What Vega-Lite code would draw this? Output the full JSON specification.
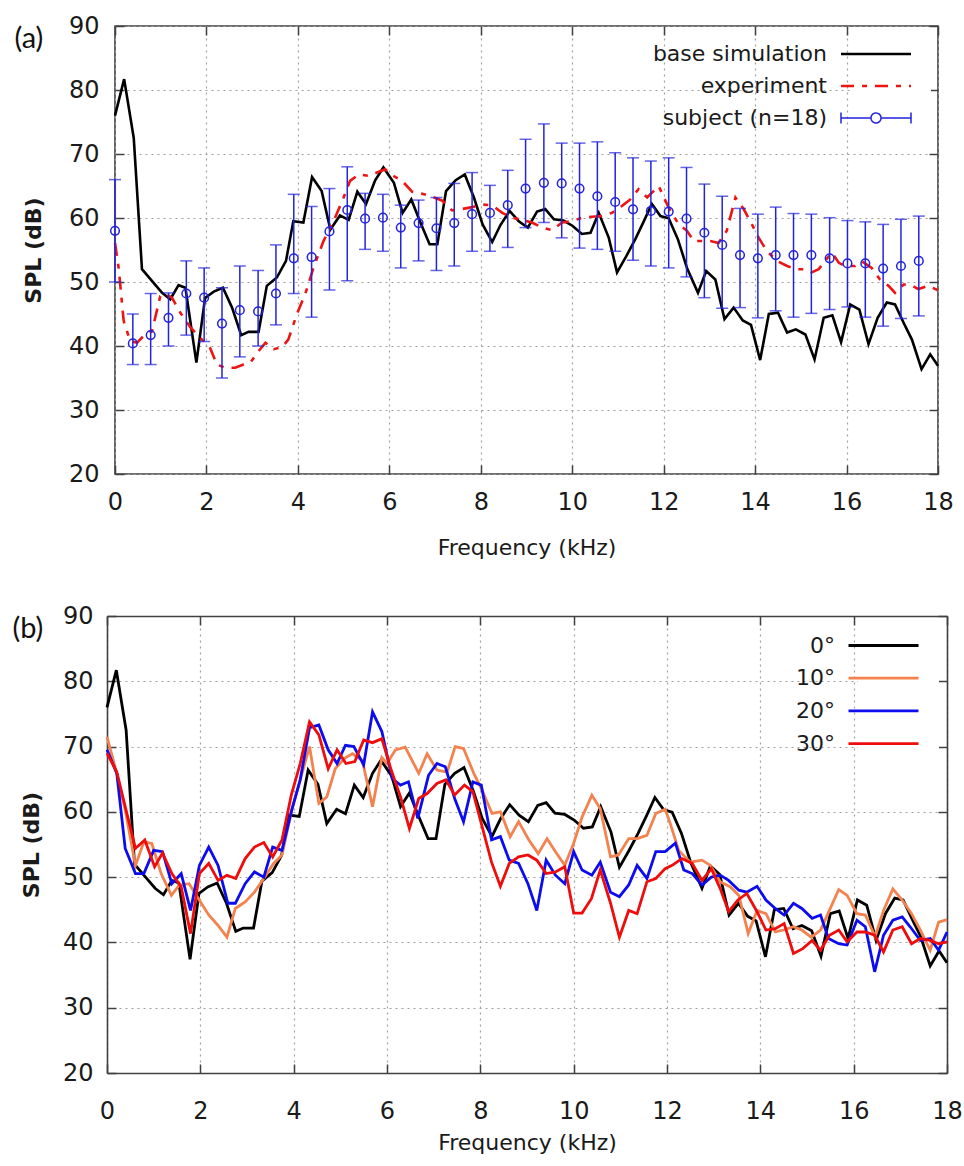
{
  "$schema": "https://vega.github.io/schema/vega-lite/v6.json",
  "background": "white",
  "padding": {"left": 12, "top": 13, "right": 4, "bottom": 4},
  "columns": 1,
  "align": "none",
  "bounds": "full",
  "spacing": 45,
  "resolve": {"scale": {"color": "independent"}, "legend": {"color": "independent"}},
  "datasets": {
    "sim": [
      {"f":0.0,"v":76.0},{"f":0.2,"v":81.7},{"f":0.41,"v":72.5},{"f":0.59,"v":52.0},{"f":0.84,"v":49.9},{"f":1.03,"v":48.3},{"f":1.21,"v":47.3},{"f":1.39,"v":49.5},{"f":1.54,"v":49.1},{"f":1.78,"v":37.4},{"f":1.97,"v":47.5},{"f":2.16,"v":48.5},{"f":2.36,"v":49.1},{"f":2.56,"v":46.0},{"f":2.76,"v":41.7},{"f":2.92,"v":42.2},{"f":3.14,"v":42.2},{"f":3.32,"v":49.4},{"f":3.54,"v":50.7},{"f":3.74,"v":53.3},{"f":3.9,"v":59.5},{"f":4.12,"v":59.3},{"f":4.31,"v":66.4},{"f":4.52,"v":64.2},{"f":4.71,"v":58.2},{"f":4.92,"v":60.4},{"f":5.11,"v":59.7},{"f":5.3,"v":64.1},{"f":5.49,"v":62.2},{"f":5.69,"v":65.9},{"f":5.87,"v":67.9},{"f":6.1,"v":65.5},{"f":6.29,"v":60.8},{"f":6.48,"v":62.9},{"f":6.68,"v":59.3},{"f":6.88,"v":55.9},{"f":7.05,"v":55.9},{"f":7.24,"v":64.2},{"f":7.45,"v":65.9},{"f":7.65,"v":66.8},{"f":7.85,"v":63.2},{"f":8.04,"v":59.0},{"f":8.25,"v":56.25},{"f":8.43,"v":58.9},{"f":8.63,"v":61.1},{"f":8.83,"v":59.5},{"f":9.03,"v":58.5},{"f":9.23,"v":61.0},{"f":9.41,"v":61.4},{"f":9.6,"v":59.8},{"f":9.81,"v":59.6},{"f":10.01,"v":58.75},{"f":10.21,"v":57.5},{"f":10.4,"v":57.7},{"f":10.58,"v":60.8},{"f":10.8,"v":56.9},{"f":10.98,"v":51.5},{"f":11.18,"v":54.0},{"f":11.38,"v":56.7},{"f":11.56,"v":59.4},{"f":11.74,"v":62.2},{"f":11.93,"v":60.3},{"f":12.11,"v":59.95},{"f":12.31,"v":56.7},{"f":12.51,"v":52.2},{"f":12.75,"v":48.3},{"f":12.93,"v":51.7},{"f":13.13,"v":50.4},{"f":13.33,"v":44.2},{"f":13.53,"v":46.0},{"f":13.73,"v":44.0},{"f":13.91,"v":43.3},{"f":14.11,"v":37.8},{"f":14.3,"v":45.0},{"f":14.5,"v":45.2},{"f":14.7,"v":42.1},{"f":14.89,"v":42.6},{"f":15.1,"v":41.8},{"f":15.3,"v":37.9},{"f":15.5,"v":44.4},{"f":15.69,"v":44.8},{"f":15.88,"v":40.6},{"f":16.08,"v":46.5},{"f":16.28,"v":45.7},{"f":16.48,"v":40.3},{"f":16.68,"v":44.4},{"f":16.88,"v":46.8},{"f":17.06,"v":46.5},{"f":17.25,"v":43.6},{"f":17.43,"v":41.0},{"f":17.64,"v":36.4},{"f":17.83,"v":38.7},{"f":18.0,"v":36.9}
    ],
    "exp": [
      {"f":0.0,"v":56.1},{"f":0.08,"v":52.2},{"f":0.19,"v":43.9},{"f":0.33,"v":40.8},{"f":0.48,"v":40.5},{"f":0.63,"v":41.6},{"f":0.81,"v":42.3},{"f":0.99,"v":47.8},{"f":1.1,"v":48.2},{"f":1.25,"v":47.5},{"f":1.43,"v":45.2},{"f":1.65,"v":42.9},{"f":1.86,"v":41.3},{"f":2.08,"v":39.7},{"f":2.23,"v":37.1},{"f":2.41,"v":36.6},{"f":2.63,"v":36.6},{"f":2.81,"v":37.1},{"f":2.96,"v":37.4},{"f":3.14,"v":39.2},{"f":3.29,"v":40.5},{"f":3.47,"v":39.5},{"f":3.65,"v":39.8},{"f":3.79,"v":41.0},{"f":3.98,"v":45.0},{"f":4.16,"v":48.1},{"f":4.34,"v":52.2},{"f":4.56,"v":56.4},{"f":4.78,"v":59.5},{"f":5.0,"v":63.2},{"f":5.14,"v":65.8},{"f":5.33,"v":66.8},{"f":5.54,"v":66.6},{"f":5.73,"v":67.1},{"f":5.91,"v":67.6},{"f":6.06,"v":66.7},{"f":6.28,"v":65.8},{"f":6.5,"v":64.1},{"f":6.72,"v":63.8},{"f":6.94,"v":63.3},{"f":7.16,"v":62.7},{"f":7.37,"v":61.2},{"f":7.59,"v":61.4},{"f":7.81,"v":61.7},{"f":8.03,"v":62.1},{"f":8.25,"v":62.0},{"f":8.47,"v":60.8},{"f":8.68,"v":60.05},{"f":8.9,"v":59.7},{"f":9.12,"v":59.3},{"f":9.34,"v":58.5},{"f":9.56,"v":58.1},{"f":9.78,"v":59.3},{"f":10.0,"v":59.5},{"f":10.21,"v":60.05},{"f":10.43,"v":60.2},{"f":10.65,"v":60.3},{"f":10.87,"v":60.8},{"f":11.09,"v":61.9},{"f":11.27,"v":62.9},{"f":11.45,"v":64.5},{"f":11.64,"v":63.2},{"f":11.89,"v":65.0},{"f":12.11,"v":61.6},{"f":12.33,"v":59.0},{"f":12.51,"v":58.0},{"f":12.66,"v":56.4},{"f":12.84,"v":56.4},{"f":13.02,"v":56.4},{"f":13.2,"v":56.1},{"f":13.38,"v":58.0},{"f":13.57,"v":63.2},{"f":13.75,"v":61.4},{"f":13.93,"v":59.0},{"f":14.08,"v":56.9},{"f":14.26,"v":54.8},{"f":14.48,"v":53.3},{"f":14.7,"v":52.5},{"f":14.91,"v":52.0},{"f":15.1,"v":52.0},{"f":15.24,"v":51.5},{"f":15.39,"v":52.0},{"f":15.53,"v":53.3},{"f":15.68,"v":54.6},{"f":15.83,"v":53.0},{"f":15.97,"v":52.5},{"f":16.19,"v":52.5},{"f":16.34,"v":53.2},{"f":16.55,"v":52.2},{"f":16.73,"v":50.4},{"f":16.92,"v":49.4},{"f":17.06,"v":48.3},{"f":17.25,"v":49.6},{"f":17.39,"v":49.6},{"f":17.57,"v":48.9},{"f":17.79,"v":49.4},{"f":18.0,"v":48.7}
    ],
    "subj": [
      {"f":0.0,"m":58.0,"lo":50.0,"hi":66.0},{"f":0.39,"m":40.4,"lo":37.1,"hi":45.0},{"f":0.78,"m":41.7,"lo":37.1,"hi":48.2},{"f":1.17,"m":44.4,"lo":40.0,"hi":48.3},{"f":1.56,"m":48.2,"lo":41.7,"hi":53.3},{"f":1.95,"m":47.55,"lo":40.7,"hi":52.2},{"f":2.34,"m":43.5,"lo":35.0,"hi":49.1},{"f":2.73,"m":45.6,"lo":38.3,"hi":52.5},{"f":3.13,"m":45.4,"lo":40.0,"hi":51.8},{"f":3.52,"m":48.2,"lo":43.3,"hi":55.8},{"f":3.91,"m":53.7,"lo":48.2,"hi":63.7},{"f":4.3,"m":53.9,"lo":44.5,"hi":61.8},{"f":4.69,"m":57.9,"lo":48.75,"hi":64.6},{"f":5.08,"m":61.25,"lo":50.2,"hi":68.0},{"f":5.47,"m":59.9,"lo":55.1,"hi":63.85},{"f":5.86,"m":60.05,"lo":54.8,"hi":63.7},{"f":6.25,"m":58.5,"lo":52.2,"hi":62.0},{"f":6.64,"m":59.2,"lo":53.3,"hi":62.8},{"f":7.03,"m":58.4,"lo":51.8,"hi":63.2},{"f":7.42,"m":59.2,"lo":52.5,"hi":65.4},{"f":7.81,"m":60.6,"lo":54.8,"hi":67.1},{"f":8.2,"m":60.8,"lo":54.8,"hi":65.1},{"f":8.59,"m":62.0,"lo":55.4,"hi":67.45},{"f":8.98,"m":64.6,"lo":58.5,"hi":72.3},{"f":9.38,"m":65.5,"lo":59.3,"hi":74.7},{"f":9.77,"m":65.4,"lo":56.9,"hi":71.7},{"f":10.16,"m":64.6,"lo":55.3,"hi":71.7},{"f":10.55,"m":63.4,"lo":55.1,"hi":71.9},{"f":10.94,"m":62.5,"lo":54.8,"hi":70.2},{"f":11.33,"m":61.35,"lo":53.4,"hi":69.4},{"f":11.72,"m":61.1,"lo":52.5,"hi":68.9},{"f":12.11,"m":61.0,"lo":52.2,"hi":69.4},{"f":12.5,"m":59.9,"lo":50.8,"hi":67.9},{"f":12.89,"m":57.7,"lo":47.55,"hi":65.3},{"f":13.28,"m":55.8,"lo":45.9,"hi":63.4},{"f":13.67,"m":54.2,"lo":46.0,"hi":61.5},{"f":14.06,"m":53.7,"lo":44.4,"hi":60.6},{"f":14.45,"m":54.2,"lo":45.5,"hi":61.7},{"f":14.84,"m":54.2,"lo":44.5,"hi":60.7},{"f":15.23,"m":54.2,"lo":45.1,"hi":60.6},{"f":15.63,"m":53.7,"lo":45.7,"hi":60.05},{"f":16.02,"m":52.9,"lo":46.1,"hi":59.6},{"f":16.41,"m":52.9,"lo":44.5,"hi":59.4},{"f":16.8,"m":52.1,"lo":43.1,"hi":59.0},{"f":17.19,"m":52.5,"lo":44.3,"hi":59.8},{"f":17.58,"m":53.3,"lo":44.7,"hi":60.3}
    ],
    "b10": [
      {"f":0.0,"v":71.5},{"f":0.21,"v":65.9},{"f":0.39,"v":60.3},{"f":0.61,"v":51.8},{"f":0.79,"v":55.4},{"f":0.96,"v":55.15},{"f":1.16,"v":50.55},{"f":1.38,"v":47.2},{"f":1.55,"v":48.8},{"f":1.76,"v":49.0},{"f":1.96,"v":46.7},{"f":2.18,"v":44.2},{"f":2.38,"v":42.6},{"f":2.57,"v":40.8},{"f":2.75,"v":45.2},{"f":2.96,"v":46.2},{"f":3.16,"v":47.7},{"f":3.36,"v":49.8},{"f":3.57,"v":52.1},{"f":3.75,"v":53.4},{"f":3.96,"v":60.3},{"f":4.14,"v":64.9},{"f":4.34,"v":70.0},{"f":4.54,"v":61.3},{"f":4.71,"v":62.3},{"f":4.89,"v":66.6},{"f":5.09,"v":68.2},{"f":5.26,"v":68.9},{"f":5.47,"v":67.9},{"f":5.69,"v":60.8},{"f":5.89,"v":68.3},{"f":6.0,"v":67.4},{"f":6.18,"v":69.5},{"f":6.39,"v":69.9},{"f":6.68,"v":65.9},{"f":6.86,"v":68.9},{"f":7.07,"v":66.4},{"f":7.29,"v":66.1},{"f":7.46,"v":70.0},{"f":7.64,"v":69.7},{"f":7.86,"v":65.9},{"f":8.04,"v":63.3},{"f":8.25,"v":59.75},{"f":8.43,"v":60.0},{"f":8.64,"v":56.2},{"f":8.82,"v":58.5},{"f":9.04,"v":55.7},{"f":9.24,"v":53.6},{"f":9.43,"v":55.9},{"f":9.61,"v":53.9},{"f":9.81,"v":51.8},{"f":10.0,"v":55.2},{"f":10.18,"v":59.2},{"f":10.39,"v":62.55},{"f":10.57,"v":60.5},{"f":10.79,"v":53.1},{"f":10.96,"v":53.4},{"f":11.18,"v":55.9},{"f":11.36,"v":55.9},{"f":11.57,"v":56.4},{"f":11.76,"v":59.75},{"f":11.96,"v":60.4},{"f":12.07,"v":58.2},{"f":12.25,"v":54.1},{"f":12.5,"v":52.3},{"f":12.75,"v":52.6},{"f":12.93,"v":51.8},{"f":13.14,"v":49.3},{"f":13.36,"v":48.5},{"f":13.54,"v":47.2},{"f":13.74,"v":41.35},{"f":13.93,"v":44.9},{"f":14.12,"v":44.4},{"f":14.32,"v":41.6},{"f":14.5,"v":41.9},{"f":14.71,"v":42.4},{"f":14.89,"v":41.9},{"f":15.09,"v":40.8},{"f":15.29,"v":41.9},{"f":15.48,"v":44.9},{"f":15.68,"v":48.1},{"f":15.86,"v":47.2},{"f":16.07,"v":44.4},{"f":16.25,"v":44.2},{"f":16.46,"v":40.9},{"f":16.64,"v":44.9},{"f":16.84,"v":48.2},{"f":17.04,"v":46.5},{"f":17.24,"v":44.4},{"f":17.43,"v":41.9},{"f":17.64,"v":38.8},{"f":17.82,"v":43.1},{"f":18.0,"v":43.5}
    ],
    "b20": [
      {"f":0.0,"v":69.5},{"f":0.21,"v":65.9},{"f":0.39,"v":54.4},{"f":0.61,"v":50.55},{"f":0.79,"v":50.55},{"f":1.0,"v":54.1},{"f":1.19,"v":53.9},{"f":1.39,"v":49.0},{"f":1.59,"v":50.55},{"f":1.79,"v":44.9},{"f":1.98,"v":51.8},{"f":2.18,"v":54.6},{"f":2.38,"v":51.8},{"f":2.59,"v":46.0},{"f":2.75,"v":46.0},{"f":2.96,"v":49.0},{"f":3.16,"v":50.8},{"f":3.36,"v":50.0},{"f":3.55,"v":54.6},{"f":3.75,"v":54.1},{"f":3.96,"v":60.3},{"f":4.14,"v":64.9},{"f":4.34,"v":72.9},{"f":4.54,"v":73.3},{"f":4.74,"v":69.5},{"f":4.93,"v":67.4},{"f":5.11,"v":70.2},{"f":5.29,"v":70.0},{"f":5.5,"v":67.2},{"f":5.69,"v":75.3},{"f":5.89,"v":72.3},{"f":6.11,"v":65.1},{"f":6.29,"v":64.1},{"f":6.46,"v":64.6},{"f":6.66,"v":59.0},{"f":6.89,"v":65.6},{"f":7.07,"v":67.4},{"f":7.25,"v":66.9},{"f":7.45,"v":62.05},{"f":7.64,"v":58.5},{"f":7.84,"v":64.6},{"f":8.02,"v":64.1},{"f":8.24,"v":55.7},{"f":8.43,"v":56.2},{"f":8.62,"v":52.6},{"f":8.82,"v":52.1},{"f":9.02,"v":49.0},{"f":9.21,"v":44.9},{"f":9.41,"v":52.6},{"f":9.61,"v":50.3},{"f":9.81,"v":49.0},{"f":10.0,"v":53.9},{"f":10.18,"v":51.1},{"f":10.39,"v":50.3},{"f":10.57,"v":52.3},{"f":10.79,"v":47.7},{"f":10.98,"v":47.0},{"f":11.18,"v":48.8},{"f":11.36,"v":51.8},{"f":11.57,"v":49.8},{"f":11.76,"v":53.9},{"f":11.96,"v":53.9},{"f":12.18,"v":55.2},{"f":12.36,"v":51.1},{"f":12.54,"v":50.55},{"f":12.75,"v":48.8},{"f":12.95,"v":50.0},{"f":13.14,"v":50.3},{"f":13.32,"v":49.5},{"f":13.54,"v":48.0},{"f":13.71,"v":47.7},{"f":13.93,"v":48.6},{"f":14.12,"v":46.5},{"f":14.32,"v":45.2},{"f":14.51,"v":44.2},{"f":14.71,"v":46.0},{"f":14.89,"v":45.2},{"f":15.11,"v":43.7},{"f":15.29,"v":44.2},{"f":15.46,"v":40.6},{"f":15.68,"v":39.8},{"f":15.86,"v":39.6},{"f":16.07,"v":43.4},{"f":16.25,"v":42.4},{"f":16.45,"v":35.5},{"f":16.64,"v":41.1},{"f":16.84,"v":43.4},{"f":17.04,"v":43.9},{"f":17.21,"v":42.4},{"f":17.43,"v":40.3},{"f":17.64,"v":40.6},{"f":17.82,"v":38.8},{"f":18.0,"v":41.6}
    ],
    "b30": [
      {"f":0.0,"v":69.0},{"f":0.21,"v":66.1},{"f":0.39,"v":60.8},{"f":0.61,"v":54.4},{"f":0.81,"v":55.7},{"f":1.02,"v":51.6},{"f":1.19,"v":53.7},{"f":1.39,"v":50.55},{"f":1.59,"v":48.5},{"f":1.79,"v":41.35},{"f":1.98,"v":50.55},{"f":2.18,"v":52.1},{"f":2.38,"v":49.5},{"f":2.57,"v":50.3},{"f":2.76,"v":49.8},{"f":2.96,"v":52.85},{"f":3.16,"v":54.6},{"f":3.36,"v":55.3},{"f":3.55,"v":53.1},{"f":3.75,"v":55.7},{"f":3.95,"v":62.6},{"f":4.14,"v":67.4},{"f":4.34,"v":73.8},{"f":4.54,"v":71.8},{"f":4.74,"v":66.6},{"f":4.93,"v":69.5},{"f":5.12,"v":67.4},{"f":5.31,"v":67.7},{"f":5.5,"v":71.0},{"f":5.69,"v":70.6},{"f":5.89,"v":71.2},{"f":6.09,"v":66.4},{"f":6.29,"v":62.3},{"f":6.48,"v":57.45},{"f":6.68,"v":62.05},{"f":6.86,"v":62.8},{"f":7.07,"v":64.35},{"f":7.26,"v":64.9},{"f":7.45,"v":62.6},{"f":7.66,"v":64.1},{"f":7.84,"v":63.1},{"f":8.04,"v":57.7},{"f":8.24,"v":52.3},{"f":8.43,"v":48.6},{"f":8.62,"v":52.1},{"f":8.82,"v":53.1},{"f":9.02,"v":53.4},{"f":9.21,"v":52.6},{"f":9.41,"v":50.55},{"f":9.61,"v":50.8},{"f":9.81,"v":51.6},{"f":10.0,"v":44.5},{"f":10.18,"v":44.5},{"f":10.38,"v":46.7},{"f":10.57,"v":51.1},{"f":10.79,"v":46.0},{"f":10.98,"v":40.8},{"f":11.18,"v":44.9},{"f":11.36,"v":44.4},{"f":11.57,"v":49.3},{"f":11.76,"v":49.8},{"f":11.96,"v":51.3},{"f":12.11,"v":51.8},{"f":12.32,"v":52.85},{"f":12.54,"v":52.1},{"f":12.75,"v":49.5},{"f":12.95,"v":51.3},{"f":13.14,"v":48.25},{"f":13.32,"v":44.7},{"f":13.52,"v":46.5},{"f":13.71,"v":47.5},{"f":13.93,"v":44.7},{"f":14.12,"v":41.9},{"f":14.32,"v":42.1},{"f":14.51,"v":42.9},{"f":14.71,"v":38.3},{"f":14.91,"v":39.05},{"f":15.11,"v":40.3},{"f":15.29,"v":38.8},{"f":15.48,"v":41.1},{"f":15.68,"v":41.9},{"f":15.86,"v":40.1},{"f":16.07,"v":41.6},{"f":16.25,"v":41.6},{"f":16.45,"v":41.1},{"f":16.64,"v":38.55},{"f":16.84,"v":41.9},{"f":17.04,"v":42.4},{"f":17.24,"v":39.8},{"f":17.43,"v":40.6},{"f":17.64,"v":40.3},{"f":17.82,"v":39.8},{"f":18.0,"v":40.1}
    ]
  },
  "concat": [
    {
      "width": 823,
      "height": 448,
      "title": {"text": "(a)", "anchor": "start", "frame": "bounds", "font": "Lato", "fontSize": 29, "fontWeight": "normal", "color": "#111111", "dx": -8, "dy": 40, "offset": 0},
      "layer": [
        {
          "data": {"name": "sim"},
          "mark": {"type": "line", "strokeWidth": 2.6},
          "encoding": {
            "x": {"field": "f", "type": "quantitative", "scale": {"domain": [0, 18], "nice": false, "zero": false},
                  "axis": {"orient": "bottom", "values": [0,2,4,6,8,10,12,14,16,18], "title": "Frequency (kHz)", "grid": true, "labelPadding": 25, "titlePadding": 23}},
            "y": {"field": "v", "type": "quantitative", "scale": {"domain": [20, 90], "nice": false, "zero": false},
                  "axis": {"orient": "left", "values": [20,30,40,50,60,70,80,90], "title": "SPL (dB)", "titleFontWeight": "bold", "grid": true, "labelPadding": 25, "titlePadding": 23}},
            "color": {"datum": "base simulation", "type": "nominal",
                      "scale": {"domain": ["base simulation", "experiment", "subject (n=18)"], "range": ["#000000", "#ee1414", "#2323dd"]},
                      "legend": {
                        "title": null, "orient": "none", "legendX": 736, "legendY": 3, "fillColor": "#ffffff", "padding": 14, "rowPadding": 10,
                        "labelFont": "DejaVu Sans", "labelFontSize": 22, "labelColor": "#1a1a1a", "labelAlign": "right", "labelOffset": -60, "labelLimit": 400,
                        "symbolSize": 400, "symbolStrokeWidth": 2.6, "symbolType": "M-3.5,0L3.5,0", "symbolFillColor": "transparent",
                        "encode": {"symbols": {"update": {
                          "shape": {"signal": "datum.value === 'subject (n=18)' ? 'M-3.5,-0.55L-3.5,0.55M-3.5,0L-0.5,0M0.5,0L3.5,0M3.5,-0.55L3.5,0.55M0.5,0A0.5,0.5 0 1 1 -0.5,0A0.5,0.5 0 1 1 0.5,0' : 'M-3.5,0L3.5,0'"},
                          "strokeDash": {"signal": "datum.value === 'experiment' ? [13,8,5,8] : [1,0]"},
                          "strokeWidth": {"signal": "datum.value === 'subject (n=18)' ? 1.5 : 2.6"},
                          "fill": {"value": "transparent"},
                          "fillOpacity": {"value": 0},
                          "opacity": {"value": 1}
                        }}}
                      }}
          }
        },
        {
          "data": {"name": "exp"},
          "mark": {"type": "line", "strokeWidth": 2.6, "strokeDash": [13, 8, 5, 8]},
          "encoding": {
            "x": {"field": "f", "type": "quantitative", "axis": null},
            "y": {"field": "v", "type": "quantitative", "axis": null},
            "color": {"datum": "experiment", "type": "nominal"}
          }
        },
        {
          "data": {"name": "subj"},
          "mark": {"type": "rule", "strokeWidth": 1.5},
          "encoding": {
            "x": {"field": "f", "type": "quantitative", "axis": null},
            "y": {"field": "lo", "type": "quantitative", "axis": null},
            "y2": {"field": "hi"},
            "color": {"datum": "subject (n=18)", "type": "nominal"}
          }
        },
        {
          "data": {"name": "subj"},
          "mark": {"type": "tick", "orient": "horizontal", "size": 12, "thickness": 1.5},
          "encoding": {
            "x": {"field": "f", "type": "quantitative", "axis": null},
            "y": {"field": "lo", "type": "quantitative", "axis": null},
            "color": {"datum": "subject (n=18)", "type": "nominal"}
          }
        },
        {
          "data": {"name": "subj"},
          "mark": {"type": "tick", "orient": "horizontal", "size": 12, "thickness": 1.5},
          "encoding": {
            "x": {"field": "f", "type": "quantitative", "axis": null},
            "y": {"field": "hi", "type": "quantitative", "axis": null},
            "color": {"datum": "subject (n=18)", "type": "nominal"}
          }
        },
        {
          "data": {"name": "subj"},
          "mark": {"type": "point", "filled": false, "size": 75, "strokeWidth": 1.5, "opacity": 1},
          "encoding": {
            "x": {"field": "f", "type": "quantitative", "axis": null},
            "y": {"field": "m", "type": "quantitative", "axis": null},
            "color": {"datum": "subject (n=18)", "type": "nominal"}
          }
        },
        {
          "data": {"name": "sim"},
          "mark": {"type": "line", "opacity": 0},
          "encoding": {
            "x": {"field": "f", "type": "quantitative", "axis": {"orient": "top", "values": [0,2,4,6,8,10,12,14,16,18], "labels": false, "grid": false, "title": null}},
            "y": {"field": "v", "type": "quantitative", "axis": {"orient": "right", "values": [20,30,40,50,60,70,80,90], "labels": false, "grid": false, "title": null}}
          }
        }
      ],
      "resolve": {"axis": {"x": "independent", "y": "independent"}}
    },
    {
      "width": 840,
      "height": 457,
      "view": {"stroke": null},
      "title": {"text": "(b)", "anchor": "start", "frame": "bounds", "font": "Lato", "fontSize": 29, "fontWeight": "normal", "color": "#111111", "dx": -8, "dy": 40, "offset": 0},
      "layer": [
        {
          "data": {"name": "sim"},
          "mark": {"type": "line", "strokeWidth": 2.8},
          "encoding": {
            "x": {"field": "f", "type": "quantitative", "scale": {"domain": [0, 18], "nice": false, "zero": false, "range": [-8, 832]},
                  "axis": {"orient": "bottom", "values": [0,2,4,6,8,10,12,14,16,18], "title": "Frequency (kHz)", "grid": true, "labelPadding": 35, "titlePadding": 9, "domain": true, "domainColor": "#404040", "domainWidth": 1.6}},
            "y": {"field": "v", "type": "quantitative", "scale": {"domain": [20, 90], "nice": false, "zero": false},
                  "axis": {"orient": "left", "offset": 8, "values": [20,30,40,50,60,70,80,90], "title": "SPL (dB)", "titleFontWeight": "bold", "grid": true, "labelPadding": 23, "titlePadding": 19, "domain": true, "domainColor": "#404040", "domainWidth": 1.6}},
            "color": {"datum": "0°", "type": "nominal",
                      "scale": {"domain": ["0°", "10°", "20°", "30°"], "range": ["#000000", "#f4824f", "#0c0cee", "#ee0c0c"]},
                      "legend": {
                        "title": null, "orient": "none", "legendX": 743, "legendY": 4, "fillColor": "#ffffff", "padding": 14, "rowPadding": 9.7,
                        "labelFont": "DejaVu Sans", "labelFontSize": 22, "labelColor": "#1a1a1a", "labelAlign": "right", "labelOffset": -60, "labelLimit": 400,
                        "symbolSize": 400, "symbolStrokeWidth": 2.8, "symbolType": "M-3.5,0L3.5,0", "symbolFillColor": "transparent",
                        "encode": {"symbols": {"update": {"fill": {"value": "transparent"}, "fillOpacity": {"value": 0}, "opacity": {"value": 1}}}}
                      }}
          }
        },
        {
          "data": {"name": "b10"},
          "mark": {"type": "line", "strokeWidth": 2.8},
          "encoding": {
            "x": {"field": "f", "type": "quantitative", "axis": null},
            "y": {"field": "v", "type": "quantitative", "axis": null},
            "color": {"datum": "10°", "type": "nominal"}
          }
        },
        {
          "data": {"name": "b20"},
          "mark": {"type": "line", "strokeWidth": 2.8},
          "encoding": {
            "x": {"field": "f", "type": "quantitative", "axis": null},
            "y": {"field": "v", "type": "quantitative", "axis": null},
            "color": {"datum": "20°", "type": "nominal"}
          }
        },
        {
          "data": {"name": "b30"},
          "mark": {"type": "line", "strokeWidth": 2.8},
          "encoding": {
            "x": {"field": "f", "type": "quantitative", "axis": null},
            "y": {"field": "v", "type": "quantitative", "axis": null},
            "color": {"datum": "30°", "type": "nominal"}
          }
        },
        {
          "data": {"name": "sim"},
          "mark": {"type": "line", "opacity": 0},
          "encoding": {
            "x": {"field": "f", "type": "quantitative", "axis": {"orient": "top", "values": [0,2,4,6,8,10,12,14,16,18], "labels": false, "grid": false, "title": null, "domain": true, "domainColor": "#404040", "domainWidth": 1.6}},
            "y": {"field": "v", "type": "quantitative", "axis": {"orient": "right", "offset": -8, "values": [20,30,40,50,60,70,80,90], "labels": false, "grid": false, "title": null, "domain": true, "domainColor": "#404040", "domainWidth": 1.6}}
          }
        }
      ],
      "resolve": {"axis": {"x": "independent", "y": "independent"}}
    }
  ],
  "config": {
    "font": "DejaVu Sans",
    "view": {"stroke": "#404040", "strokeWidth": 1.6},
    "axis": {
      "domain": false, "tickColor": "#404040", "tickWidth": 1.5, "tickSize": -9,
      "labelFont": "DejaVu Sans", "labelFontSize": 24, "labelColor": "#1a1a1a", "labelFlush": false, "labelOverlap": false,
      "titleFont": "DejaVu Sans", "titleFontSize": 22, "titleFontWeight": "normal", "titleColor": "#1a1a1a",
      "gridColor": "#a0a0a0", "gridDash": [2, 4], "gridWidth": 1.2, "gridOpacity": 1
    }
  }
}
